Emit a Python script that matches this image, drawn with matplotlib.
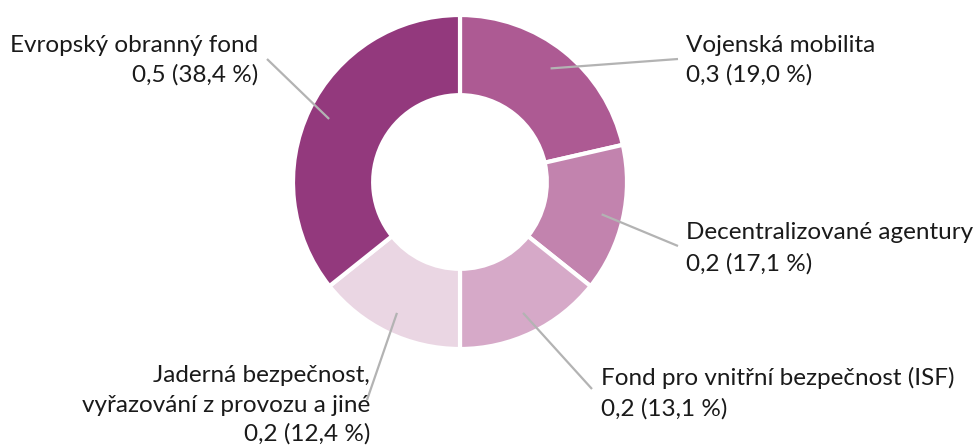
import numpy as np
import matplotlib
matplotlib.use("Agg")
import matplotlib.pyplot as plt

plt.rcParams['font.family'] = ['Lato', 'DejaVu Sans']

categories = ["Vojenská mobilita", "Decentralizované agentury",
              "Fond pro vnitřní bezpečnost (ISF)",
              "Jaderná bezpečnost,\nvyřazování z provozu a jiné",
              "Evropský obranný fond"]
values = [0.3, 0.2, 0.2, 0.2, 0.5]
value_labels = ["0,3", "0,2", "0,2", "0,2", "0,5"]
percents = ["19,0", "17,1", "13,1", "12,4", "38,4"]
colors = ["#AD5A93", "#C283AE", "#D6A9C8", "#EAD6E3", "#93397D"]

W, H = 978, 446
fig = plt.figure(figsize=(W / 100, H / 100), dpi=100)
ax = fig.add_axes([0, 0, 1, 1])
ax.set_xlim(0, W)
ax.set_ylim(0, H)
ax.set_aspect('equal')
ax.axis('off')

cx, cy, R = 460, H - 182, 167
wedges, _ = ax.pie(values, center=(cx, cy), radius=R, startangle=90,
                   counterclock=False, colors=colors,
                   wedgeprops=dict(width=0.48 * R, edgecolor='white', linewidth=3))
ax.set_xlim(0, W)
ax.set_ylim(0, H)

# label layout: (text x, text y of first line, ha, line spacing, leader end x, leader end y)
layout = [
    (686, 45, 'left', 30, 678, 59),
    (686, 233, 'left', 31, 678, 246),
    (601, 378, 'left', 31, 592, 389),
    (370, 376, 'right', 29, 367, 400),
    (258, 45, 'right', 30, 267, 59),
]
fs = 17.5
for w, cat, v, p, (tx, ty, ha, lh, ex, ey) in zip(wedges, categories, value_labels, percents, layout):
    ang = np.deg2rad((w.theta1 + w.theta2) / 2)
    px = cx + 0.87 * R * np.cos(ang)
    py = cy + 0.87 * R * np.sin(ang)
    ax.plot([px, ex], [py, H - ey], color='#b3b3b3', linewidth=1.6,
            solid_capstyle='butt', zorder=3)
    lines = cat.split("\n") + [f"{v} ({p} %)"]
    for i, t in enumerate(lines):
        ax.text(tx, H - (ty + i * lh), t, ha=ha, va='center',
                fontsize=fs, color='#1a1a1a')

fig.savefig("out.png", dpi=100)
